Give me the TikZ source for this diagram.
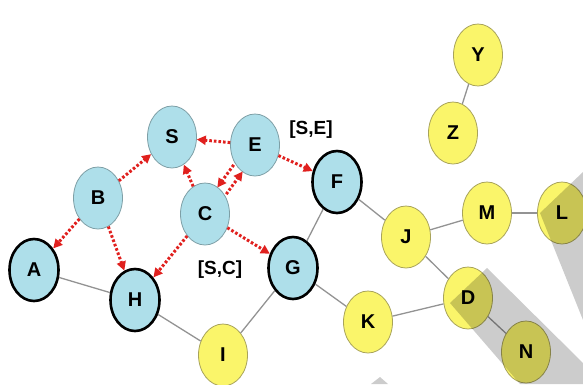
\documentclass[tikz,border=0pt]{standalone}
\usepackage{fontspec}
\setmainfont{Liberation Sans}
\usetikzlibrary{shapes.geometric, arrows.meta, calc}

\definecolor{seenfill}{HTML}{AEDFEA}
\definecolor{seenline}{HTML}{7E9FA6}
\definecolor{newfill}{HTML}{FAF56A}
\definecolor{newline}{HTML}{A8A35A}
\definecolor{walk}{HTML}{E0201E}

\begin{document}
\begin{tikzpicture}[
    x=1pt, y=-1pt,
    base/.style={ellipse, minimum width=49pt, minimum height=62pt, inner sep=0pt, font=\fontsize{20}{20}\selectfont\bfseries},
    visited/.style={base, draw=seenline, line width=0.8pt, fill=seenfill},
    frontier/.style={base, draw=black, line width=2.6pt, fill=seenfill},
    unseen/.style={base, draw=newline, line width=0.8pt, fill=newfill},
    link/.style={draw=gray!85, line width=1.3pt},
    search/.style={draw=walk, line width=3pt, dash pattern=on 2.6pt off 2pt, -{Triangle[length=9pt, width=9pt, fill=walk]}},
    tag/.style={font=\fontsize{19}{19}\selectfont\bfseries}
]
    \useasboundingbox (0,0) rectangle (583,384);

    % ================= VISITED =================
    \node[visited] (S) at (172, 137) {S};
    \node[visited] (E) at (255, 145) {E};
    \node[visited] (B) at (98, 198) {B};
    \node[visited] (C) at (205, 214) {C};

    % ================= FRONTIER =================
    \node[frontier] (A) at (34, 270) {A};
    \node[frontier] (H) at (135, 300) {H};
    \node[frontier] (G) at (293, 268) {G};
    \node[frontier] (F) at (337, 182) {F};

    % ================= NOT YET REACHED =================
    \node[unseen] (I) at (223, 355) {I};
    \node[unseen] (K) at (368, 322) {K};
    \node[unseen] (J) at (406, 237) {J};
    \node[unseen] (M) at (487, 213) {M};
    \node[unseen] (L) at (562, 213) {L};
    \node[unseen] (D) at (468, 298) {D};
    \node[unseen] (N) at (526, 352) {N};
    \node[unseen] (Y) at (478, 55) {Y};
    \node[unseen] (Z) at (453, 133) {Z};

    % ================= PLAIN EDGES =================
    \draw[link] (A) -- (H);
    \draw[link] (H) -- (I);
    \draw[link] (I) -- (G);
    \draw[link] (G) -- (F);
    \draw[link] (G) -- (K);
    \draw[link] (F) -- (J);
    \draw[link] (J) -- (M);
    \draw[link] (M) -- (L);
    \draw[link] (J) -- (D);
    \draw[link] (K) -- (D);
    \draw[link] (D) -- (N);
    \draw[link] (Y) -- (Z);

    % ================= SEARCH STEPS =================
    \draw[search] (B) -- (S);
    \draw[search] (B) -- (A);
    \draw[search] (B) -- (H);
    \draw[search] (E) -- (S);
    \draw[search] (C) -- (S);
    \draw[search, transform canvas={xshift=-4.5pt, yshift=3.3pt}] (E) -- (C);
    \draw[search, transform canvas={xshift=4.5pt, yshift=-3.3pt}] (C) -- (E);
    \draw[search] (C) -- (H);
    \draw[search] (C) -- (G);
    \draw[search] (E) -- (F);

    % ================= PATH LABELS =================
    \node[tag] (SE) at (311, 130) {[S,E]};
    \node[tag] (SC) at (220, 270) {[S,C]};

    % ================= WATERMARK =================
    \fill[black, opacity=0.2] (540,213) -- (583,172) -- (583,320) -- cycle;
    \fill[black, opacity=0.2] (450,303) -- (487,268) -- (583,363) -- (583,384) -- (520,384) -- cycle;
    \fill[black, opacity=0.2] (380,377) -- (388,384) -- (371,384) -- cycle;

\end{tikzpicture}
\end{document}
